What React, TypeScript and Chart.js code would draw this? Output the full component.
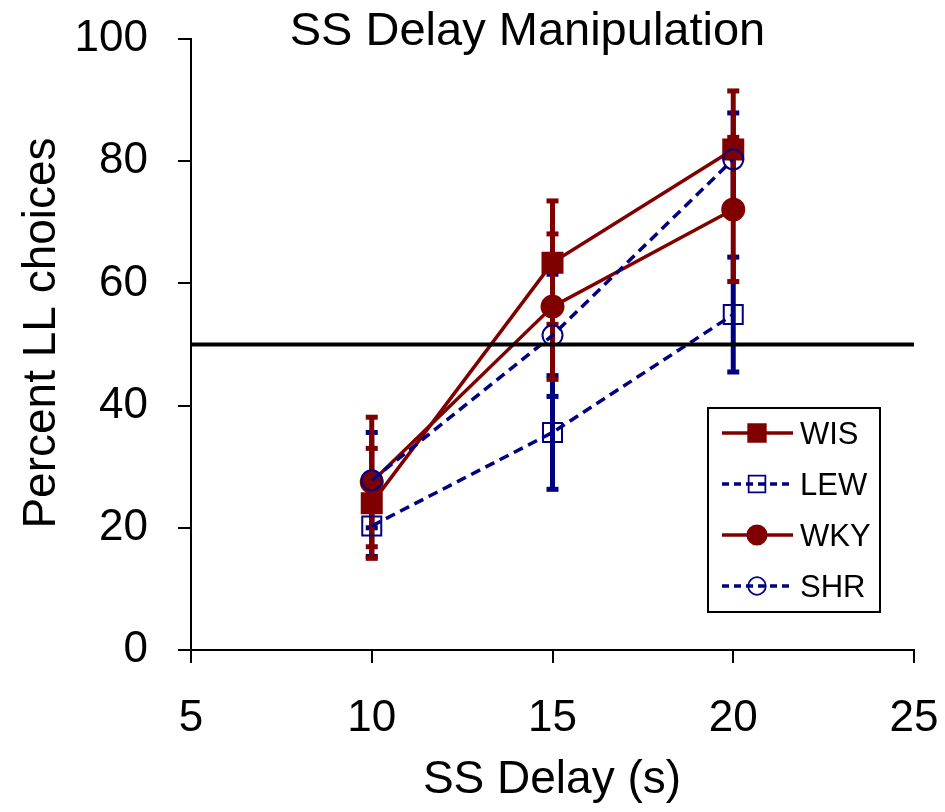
import React, { useEffect, useRef } from "react";
import { Chart, registerables } from "chart.js";

Chart.register(...registerables);

const delays = [10, 15, 20];
const wisValues = [24.0, 63.4, 81.9];
const wisErrors = [9.0, 10.1, 9.6];
const lewValues = [20.3, 35.6, 54.9];
const lewErrors = [5.0, 9.3, 9.4];
const wkyValues = [27.5, 56.2, 72.1];
const wkyErrors = [10.6, 11.9, 11.8];
const shrValues = [27.8, 51.5, 80.3];
const shrErrors = [7.8, 10.0, 7.6];
const xTicks = [5, 10, 15, 20, 25];
const yTicks = [0, 20, 40, 60, 80, 100];
const referenceLine = 50;

const RED = "#800000";
const BLUE = "#000080";
const FONT = "'Liberation Sans', Arial, sans-serif";

const seriesDefs = [
  { label: "WIS", values: wisValues, errors: wisErrors, color: RED, dashed: false, style: "rect", filled: true },
  { label: "LEW", values: lewValues, errors: lewErrors, color: BLUE, dashed: true, style: "rect", filled: false },
  { label: "WKY", values: wkyValues, errors: wkyErrors, color: RED, dashed: false, style: "circle", filled: true },
  { label: "SHR", values: shrValues, errors: shrErrors, color: BLUE, dashed: true, style: "circle", filled: false },
];

function drawMarker(ctx: CanvasRenderingContext2D, s: any, x: number, y: number) {
  ctx.save();
  ctx.setLineDash([]);
  ctx.strokeStyle = s.color;
  ctx.fillStyle = s.filled ? s.color : "white";
  ctx.lineWidth = 2;
  if (s.style === "rect") {
    const h = s.filled ? 10 : 9.5;
    ctx.beginPath();
    ctx.rect(x - h, y - h, 2 * h, 2 * h);
    if (s.filled) ctx.fill();
    ctx.stroke();
  } else {
    const r = s.filled ? 11 : 10;
    ctx.beginPath();
    ctx.arc(x, y, r, 0, Math.PI * 2);
    if (s.filled) ctx.fill();
    ctx.stroke();
  }
  ctx.restore();
}

const customPlugin = {
  id: "custom",
  beforeDatasetsDraw(chart: any) {
    const ctx = chart.ctx as CanvasRenderingContext2D;
    const xs = chart.scales.x;
    const ys = chart.scales.y;
    ctx.save();
    const order = [1, 3, 0, 2];
    order.forEach((i) => {
      const s = seriesDefs[i];
      ctx.strokeStyle = s.color;
      ctx.fillStyle = s.color;
      ctx.setLineDash([]);
      delays.forEach((d, j) => {
        const px = xs.getPixelForValue(d);
        const top = ys.getPixelForValue(s.values[j] + s.errors[j]);
        const bot = ys.getPixelForValue(s.values[j] - s.errors[j]);
        ctx.lineWidth = 5;
        ctx.beginPath();
        ctx.moveTo(px, top);
        ctx.lineTo(px, bot);
        ctx.stroke();
        ctx.fillRect(px - 6, top - 2.5, 12, 5);
        ctx.fillRect(px - 6, bot - 2.5, 12, 5);
      });
    });
    ctx.restore();
  },
  afterDatasetsDraw(chart: any) {
    const ctx = chart.ctx as CanvasRenderingContext2D;
    const ys = chart.scales.y;
    const area = chart.chartArea;
    ctx.save();
    // reference line
    const ry = ys.getPixelForValue(referenceLine);
    ctx.strokeStyle = "black";
    ctx.lineWidth = 4;
    ctx.setLineDash([]);
    ctx.beginPath();
    ctx.moveTo(area.left, ry);
    ctx.lineTo(area.right, ry);
    ctx.stroke();

    // legend
    const bx = 708, by = 408, bw = 172, bh = 204;
    ctx.fillStyle = "white";
    ctx.fillRect(bx, by, bw, bh);
    ctx.strokeStyle = "black";
    ctx.lineWidth = 2;
    ctx.strokeRect(bx, by, bw, bh);
    const rowY = [433, 484, 535, 586];
    seriesDefs.forEach((s, i) => {
      const y = rowY[i];
      ctx.strokeStyle = s.color;
      ctx.lineWidth = 3.5;
      ctx.setLineDash(s.dashed ? [7, 5] : []);
      ctx.beginPath();
      ctx.moveTo(722, y);
      ctx.lineTo(793, y);
      ctx.stroke();
      ctx.setLineDash([]);
      ctx.save();
      ctx.translate(757, y);
      ctx.scale(0.88, 0.88);
      drawMarker(ctx, s, 0, 0);
      ctx.restore();
      ctx.fillStyle = "black";
      ctx.font = `31px ${FONT}`;
      ctx.textAlign = "left";
      ctx.textBaseline = "middle";
      ctx.fillText(s.label, 800, y + 2);
    });

    // titles
    ctx.fillStyle = "black";
    ctx.textAlign = "center";
    ctx.textBaseline = "alphabetic";
    ctx.font = `47px ${FONT}`;
    ctx.fillText("SS Delay Manipulation", 527.5, 45);
    ctx.font = `46px ${FONT}`;
    ctx.fillText("SS Delay (s)", 552, 793);
    ctx.save();
    ctx.translate(55, 333);
    ctx.rotate(-Math.PI / 2);
    ctx.font = `46px ${FONT}`;
    ctx.fillText("Percent LL choices", 0, 0);
    ctx.restore();
    ctx.restore();
  },
};

const markerPlugin = {
  id: "markers",
  afterDatasetDraw(chart: any, args: any) {
    const ctx = chart.ctx as CanvasRenderingContext2D;
    const s = seriesDefs[args.index];
    const meta = chart.getDatasetMeta(args.index);
    meta.data.forEach((pt: any) => drawMarker(ctx, s, pt.x, pt.y));
  },
};

export default function App() {
  const ref = useRef<HTMLCanvasElement | null>(null);
  useEffect(() => {
    if (!ref.current) return;
    const chart = new Chart(ref.current, {
      type: "line",
      data: {
        datasets: seriesDefs.map((s, i) => ({
          label: s.label,
          data: delays.map((d, j) => ({ x: d, y: s.values[j] })),
          borderColor: s.color,
          backgroundColor: s.color,
          borderWidth: 3.5,
          borderDash: s.dashed ? [10, 6] : [],
          pointRadius: 0,
          tension: 0,
          fill: false,
          order: [3, 1, 2, 0][i],
        })),
      },
      options: {
        animation: false,
        responsive: false,
        layout: { padding: { left: 0, top: 39, right: 31, bottom: 0 } },
        plugins: { legend: { display: false }, title: { display: false }, tooltip: { enabled: false } },
        scales: {
          x: {
            type: "linear",
            min: 5,
            max: 25,
            afterBuildTicks: (scale: any) => {
              scale.ticks = xTicks.map((v) => ({ value: v }));
            },
            afterFit: (scale: any) => {
              scale.height = 162;
              scale.paddingLeft = 0;
              scale.paddingRight = 0;
            },
            ticks: { color: "black", font: { family: FONT, size: 44 }, padding: 29, maxRotation: 0, autoSkip: false },
            grid: { drawOnChartArea: false, drawTicks: true, tickLength: 13, color: "black", lineWidth: 2 },
            border: { display: true, color: "black", width: 2 },
          },
          y: {
            type: "linear",
            min: 0,
            max: 100,
            afterBuildTicks: (scale: any) => {
              scale.ticks = yTicks.map((v) => ({ value: v }));
            },
            afterFit: (scale: any) => {
              scale.width = 191;
              scale.paddingTop = 0;
              scale.paddingBottom = 0;
            },
            ticks: { color: "black", font: { family: FONT, size: 44 }, padding: 30, autoSkip: false },
            grid: { drawOnChartArea: false, drawTicks: true, tickLength: 13, color: "black", lineWidth: 2 },
            border: { display: true, color: "black", width: 2 },
          },
        },
      },
      plugins: [customPlugin, markerPlugin],
    });
    return () => chart.destroy();
  }, []);
  return (
    <div style={{ position: "fixed", left: 0, top: 0, width: 945, height: 812, background: "white" }}>
      <canvas ref={ref} width={945} height={812} style={{ display: "block" }} />
    </div>
  );
}
